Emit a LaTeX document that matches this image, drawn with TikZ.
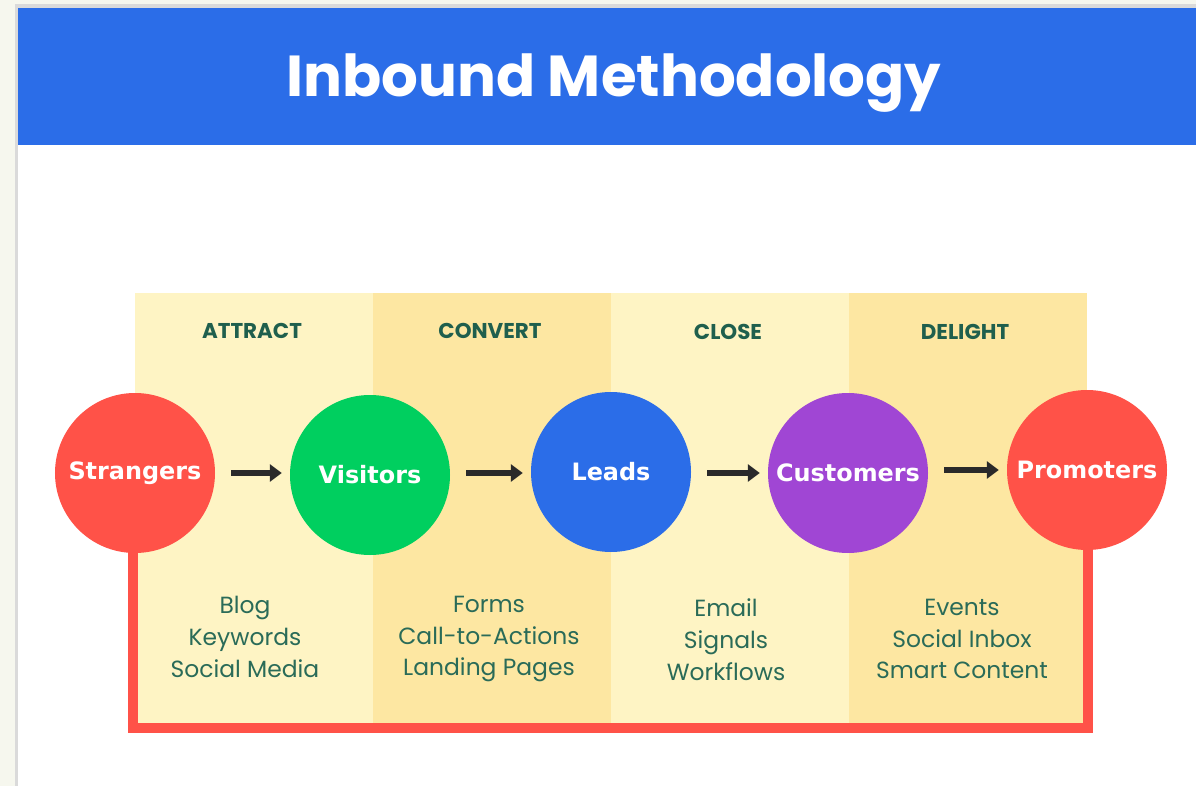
\documentclass[tikz,border=0pt]{standalone}
\usepackage{fontspec}
\setmainfont{Poppins}
\newfontfamily\circfont{DejaVu Sans}
\usetikzlibrary{arrows.meta}
\definecolor{pageoff}{HTML}{F6F7EE}
\definecolor{frameg}{HTML}{DADADA}
\definecolor{hdrblue}{HTML}{2B6DE8}
\definecolor{panelA}{HTML}{FEF4C4}
\definecolor{panelB}{HTML}{FDE7A2}
\definecolor{txtgreen}{HTML}{1F5F4D}
\definecolor{itemgreen}{HTML}{2A6B58}
\definecolor{cred}{HTML}{FF5248}
\definecolor{cgreen}{HTML}{00CF5F}
\definecolor{cblue}{HTML}{2B6DE8}
\definecolor{cpurple}{HTML}{A046D4}
\definecolor{arrowk}{HTML}{2A2A2A}
\tikzset{
  stage/.style={circle, minimum size=160bp, inner sep=0pt, text=white,
    font=\circfont\bfseries\fontsize{24}{28}\selectfont},
  phase/.style={text=txtgreen, font=\bfseries\fontsize{21.5}{24}\selectfont},
  items/.style={text=itemgreen, align=center, font=\fontsize{23.5}{32}\selectfont},
  flow/.style={line width=6bp, draw=arrowk, -{Triangle[length=12bp,width=17bp]},
    shorten <=16bp, shorten >=8bp},
  loopline/.style={draw=cred, line width=10.5bp, line join=miter}
}
\begin{document}
\begin{tikzpicture}[x=1bp,y=-1bp]
\useasboundingbox (0,0) rectangle (1196,786);
% page and frame
\fill[pageoff] (0,0) rectangle (1196,786);
\fill[frameg] (15,4) rectangle (1196,786);
\fill[white] (18,8) rectangle (1196,786);
% header
\fill[hdrblue] (18,8) rectangle (1196,145);
\node[anchor=base, text=white, font=\bfseries\fontsize{58}{60}\selectfont] (title) at (614,97) {Inbound Methodology};
% panels
\fill[panelA] (135,293) rectangle (373,728);
\fill[panelB] (373,293) rectangle (611,728);
\fill[panelA] (611,293) rectangle (849,728);
\fill[panelB] (849,293) rectangle (1087,728);
% phase labels
\node[phase] (attract) at (252,331) {ATTRACT};
\node[phase] (convert) at (490,331) {CONVERT};
\node[phase] (close)   at (728,332) {CLOSE};
\node[phase] (delight) at (965,332) {DELIGHT};
% items
\node[items] (i1) at (245,637) {Blog\\Keywords\\Social Media};
\node[items] (i2) at (489,639) {Forms\\Call-to-Actions\\Landing Pages};
\node[items] (i3) at (726,640) {Email\\Signals\\Workflows};
\node[items] (i4) at (962,639) {Events\\Social Inbox\\Smart Content};
% loop line
\draw[loopline] (133,473) -- (133,728) -- (1088,728) -- (1088,470);
% circles
\node[stage, fill=cred] (s) at (135,473) {Strangers};
\node[stage, fill=cgreen] (v) at (370,475) {Visitors};
\node[stage, fill=cblue] (l) at (611,472) {Leads};
\node[stage, fill=cpurple] (c) at (848,473) {Customers};
\node[stage, fill=cred] (p) at (1087,470) {Promoters};
% arrows
\draw[flow] (s.east) -- (s.east -| v.west);
\draw[flow] (v.east) ++(0,-2) coordinate (va) (va) -- (va -| l.west);
\draw[flow] (l.east) ++(0,1) coordinate (la) (la) -- (la -| c.west);
\draw[flow] (c.east) ++(0,-3) coordinate (ca) (ca) -- (ca -| p.west);
\end{tikzpicture}
\end{document}
